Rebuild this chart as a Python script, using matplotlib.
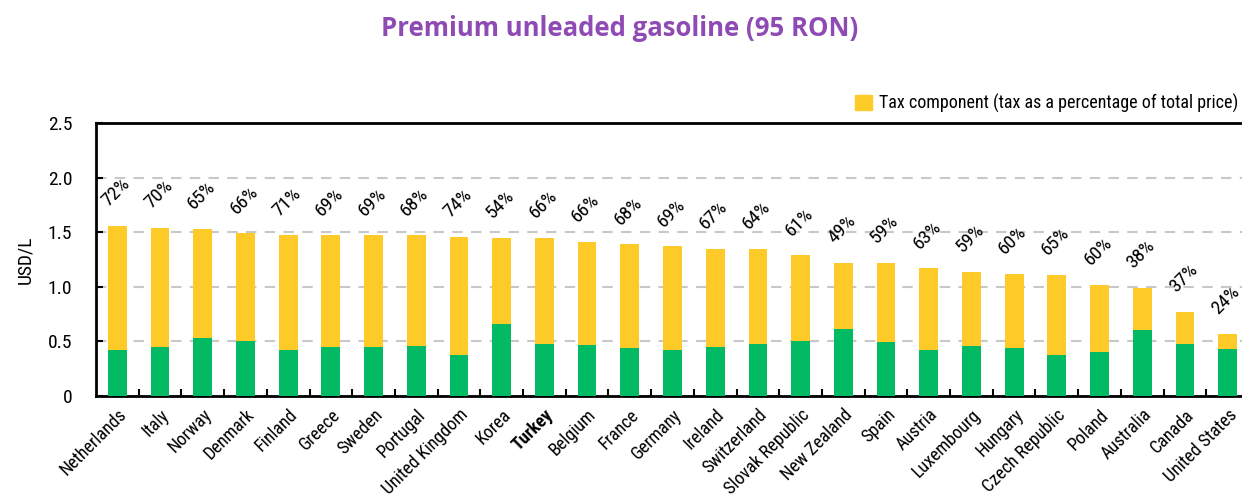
import numpy as np
import matplotlib.pyplot as plt
from matplotlib.patches import Patch
from matplotlib import font_manager

countries = ["Netherlands", "Italy", "Norway", "Denmark", "Finland", "Greece", "Sweden",
             "Portugal", "United Kingdom", "Korea", "Turkey", "Belgium", "France", "Germany",
             "Ireland", "Switzerland", "Slovak Republic", "New Zealand", "Spain", "Austria",
             "Luxembourg", "Hungary", "Czech Republic", "Poland", "Australia", "Canada",
             "United States"]
total_price = [1.56, 1.54, 1.53, 1.49, 1.47, 1.47, 1.47, 1.47, 1.46, 1.45, 1.45, 1.41, 1.39,
               1.37, 1.35, 1.35, 1.29, 1.22, 1.22, 1.17, 1.14, 1.12, 1.11, 1.02, 0.99, 0.77, 0.57]
pre_tax = [0.42, 0.45, 0.53, 0.50, 0.42, 0.45, 0.45, 0.46, 0.38, 0.66, 0.48, 0.47, 0.44,
           0.42, 0.45, 0.48, 0.50, 0.61, 0.49, 0.42, 0.46, 0.44, 0.38, 0.40, 0.60, 0.48, 0.43]
tax_share = [72, 70, 65, 66, 71, 69, 69, 68, 74, 54, 66, 66, 68, 69, 67, 64, 61, 49, 59, 63,
             59, 60, 65, 60, 38, 37, 24]

# pick a narrow face if one is installed
available = {f.name for f in font_manager.fontManager.ttflist}
candidates = ["Liberation Sans Narrow", "Roboto Condensed", "Open Sans Condensed",
              "Noto Sans Condensed", "Lato"]
narrow = next((c for c in candidates if c in available), "DejaVu Sans")
plt.rcParams['font.family'] = [narrow, 'DejaVu Sans']

yellow = "#FDCA28"
green = "#02B964"

fig = plt.figure(figsize=(12.42, 4.99), dpi=100)
ax = fig.add_axes([96 / 1242, 1 - 396 / 499, 1153 / 1242, 273 / 499])

x = np.arange(len(countries))
tax = np.array(total_price) - np.array(pre_tax)
ax.bar(x, pre_tax, width=0.44, color=green, zorder=3)
ax.bar(x, tax, bottom=pre_tax, width=0.44, color=yellow, zorder=3)

for xi, top, pct in zip(x, total_price, tax_share):
    ax.annotate(f"{pct}%", (xi, top), xytext=(-1, 24), textcoords="offset points",
                ha="center", va="center", rotation=45, fontsize=14)

ax.set_xlim(-0.5, len(countries) - 0.5)
ax.set_ylim(0, 2.5)
ax.set_yticks([0, 0.5, 1.0, 1.5, 2.0, 2.5])
ax.set_yticklabels(["0", "0.5", "1.0", "1.5", "2.0", "2.5"], fontsize=14)
ax.yaxis.grid(True, linestyle=(0, (5, 4)), color="#c8c8c8", linewidth=1.5, zorder=0)
ax.set_ylabel("USD/L", fontsize=14, labelpad=10)

ax.set_xticks(x[:-1] + 0.5)
ax.set_xticklabels([])
ax.set_xticks(x, minor=True)
ax.set_xticklabels(countries, minor=True, rotation=45, ha="right", va="top",
                   rotation_mode="anchor", fontsize=13)
ax.tick_params(axis="x", which="major", direction="in", length=5, width=1.5)
ax.tick_params(axis="x", which="minor", length=0, pad=7)
ax.tick_params(axis="y", direction="in", length=5, width=1.5, pad=17)
for lab in ax.get_xticklabels(minor=True):
    if lab.get_text() == "Turkey":
        lab.set_fontweight("bold")

for side in ["left", "top", "bottom"]:
    ax.spines[side].set_linewidth(2)
ax.spines["right"].set_visible(False)

fig.legend(handles=[Patch(color=yellow, label="Tax component (tax as a percentage of total price)")],
           loc="center right", bbox_to_anchor=(1238 / 1242, 1 - 103 / 499), frameon=False,
           fontsize=13, handlelength=0.9, handleheight=0.9, handletextpad=0.4,
           borderpad=0, borderaxespad=0)

fig.text(620 / 1242, 1 - 28 / 499, "Premium unleaded gasoline (95 RON)", ha="center", va="center",
         fontsize=18.5, fontweight="bold", color="#8E4BB3", family=["Open Sans", "DejaVu Sans"])

fig.savefig("out.png", dpi=100)
